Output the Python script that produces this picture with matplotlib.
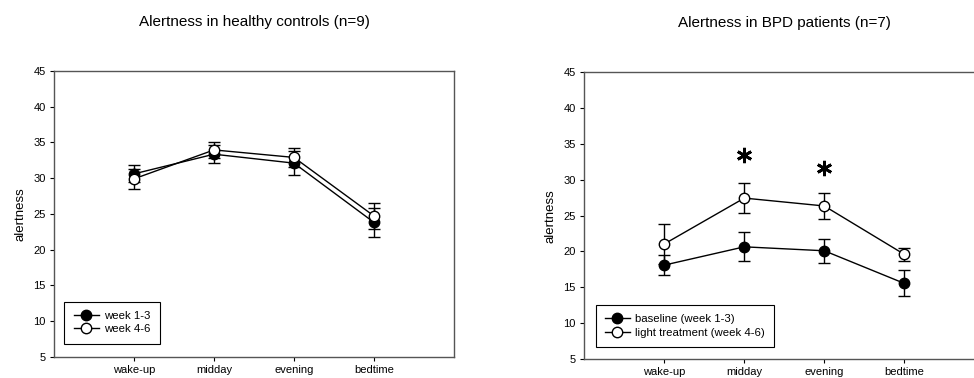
import matplotlib.pyplot as plt
from matplotlib.lines import Line2D

plt.rcParams['font.family'] = ['Liberation Sans', 'DejaVu Sans']

# Data
times = ["wake-up", "midday", "evening", "bedtime"]
x_pos = [1, 2, 3, 4]

hc_week13 = [30.6, 33.35, 32.1, 23.8]
hc_week13_err = [1.2, 1.3, 1.7, 2.05]
hc_week46 = [29.9, 33.95, 32.9, 24.7]
hc_week46_err = [1.4, 1.1, 1.35, 1.8]

bpd_base = [18.1, 20.65, 20.1, 15.55]
bpd_base_err = [1.45, 2.0, 1.65, 1.8]
bpd_light = [21.05, 27.45, 26.35, 19.6]
bpd_light_err = [2.85, 2.15, 1.8, 0.9]

star_x = [2, 3]
star_y = [33.5, 31.6]

fig = plt.figure(figsize=(9.74, 3.78), dpi=100)
ax1 = fig.add_axes([54 / 974, 21.3 / 378, 400 / 974, 285.7 / 378])
ax2 = fig.add_axes([584.3 / 974, 19 / 378, 400 / 974, 286.7 / 378])


def draw(ax, y1, e1, y2, e2, lab1, lab2, leg_anchor):
    ax.errorbar(x_pos, y1, yerr=e1, color="black", lw=1, marker="o", ms=7.5,
                mfc="black", mec="black", capsize=4, elinewidth=1, capthick=1,
                zorder=3)
    ax.errorbar(x_pos, y2, yerr=e2, color="black", lw=1, marker="o", ms=7.5,
                mfc="white", mec="black", capsize=4, elinewidth=1, capthick=1,
                zorder=4)
    ax.set_xlim(0, 5)
    ax.set_ylim(5, 45)
    ax.set_xticks(x_pos)
    ax.set_xticklabels(times)
    ax.set_yticks(range(5, 50, 5))
    ax.set_ylabel("alertness", fontsize=9.5, labelpad=5)
    ax.tick_params(labelsize=8, length=3, width=0.8, direction="out", pad=3)
    for s in ax.spines.values():
        s.set_color("#555555")
        s.set_linewidth(1)
    handles = [
        Line2D([], [], color="black", lw=1, marker="o", ms=7.5,
               mfc="black", mec="black"),
        Line2D([], [], color="black", lw=1, marker="o", ms=7.5,
               mfc="white", mec="black"),
    ]
    leg = ax.legend(handles, [lab1, lab2], loc="lower left",
                    bbox_to_anchor=leg_anchor, fontsize=8.2,
                    fancybox=False, framealpha=1, edgecolor="black",
                    handlelength=2.2, borderpad=0.8, labelspacing=0.3,
                    handletextpad=0.5)
    leg.get_frame().set_linewidth(0.8)


draw(ax1, hc_week13, hc_week13_err, hc_week46, hc_week46_err,
     "week 1-3", "week 4-6", (0.012, 0.026))
draw(ax2, bpd_base, bpd_base_err, bpd_light, bpd_light_err,
     "baseline (week 1-3)", "light treatment (week 4-6)", (0.014, 0.023))

# significance markers
ax2.plot(star_x, star_y, linestyle="none", marker=(6, 2, 0), ms=11,
         mew=2, color="black")

fig.text(254 / 974, 1 - 22 / 378, "Alertness in healthy controls (n=9)",
         ha="center", va="center", fontsize=11)
fig.text(784 / 974, 1 - 23 / 378, "Alertness in BPD patients (n=7)",
         ha="center", va="center", fontsize=11)

fig.savefig("out.png", dpi=100)
